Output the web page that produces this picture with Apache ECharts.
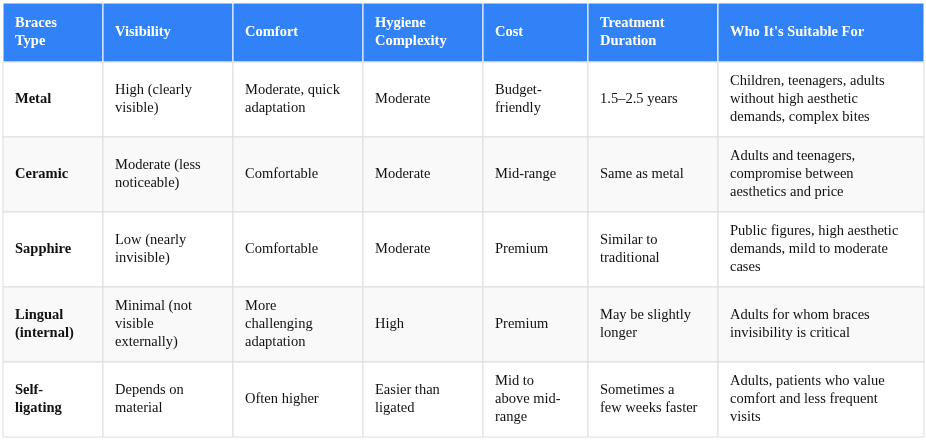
<!DOCTYPE html>
<html><head><meta charset="utf-8">
<script src="https://cdn.jsdelivr.net/npm/echarts@6/dist/echarts.min.js"></script>
<style>html,body{margin:0;padding:0;background:#fff}#chart1{width:926px;height:440px}</style>
</head><body><div id="chart1"></div>
<script>
var headers = ['Braces\nType', 'Visibility', 'Comfort', 'Hygiene\nComplexity', 'Cost', 'Treatment\nDuration', "Who It's Suitable For"];
var rowMetal = ['Metal', 'High (clearly\nvisible)', 'Moderate, quick\nadaptation', 'Moderate', 'Budget-\nfriendly', '1.5–2.5 years', 'Children, teenagers, adults\nwithout high aesthetic\ndemands, complex bites'];
var rowCeramic = ['Ceramic', 'Moderate (less\nnoticeable)', 'Comfortable', 'Moderate', 'Mid-range', 'Same as metal', 'Adults and teenagers,\ncompromise between\naesthetics and price'];
var rowSapphire = ['Sapphire', 'Low (nearly\ninvisible)', 'Comfortable', 'Moderate', 'Premium', 'Similar to\ntraditional', 'Public figures, high aesthetic\ndemands, mild to moderate\ncases'];
var rowLingual = ['Lingual\n(internal)', 'Minimal (not\nvisible\nexternally)', 'More\nchallenging\nadaptation', 'High', 'Premium', 'May be slightly\nlonger', 'Adults for whom braces\ninvisibility is critical'];
var rowSelf = ['Self-\nligating', 'Depends on\nmaterial', 'Often higher', 'Easier than\nligated', 'Mid to\nabove mid-\nrange', 'Sometimes a\nfew weeks faster', 'Adults, patients who value\ncomfort and less frequent\nvisits'];
var rows = [rowMetal, rowCeramic, rowSapphire, rowLingual, rowSelf];

var colX = [3, 103, 233, 363, 483, 588, 718, 924];
var top0 = 3, headH = 59, rowH = 75;
var els = [];
function cell(x, y, w, h, fill, txt, color, bold) {
  els.push({ type: 'rect', shape: { x: x, y: y, width: w, height: h },
    style: { fill: fill, stroke: fill === '#3182f6' ? '#ffffff' : '#dddddd', lineWidth: 1 } });
  els.push({ type: 'text', x: x + 12, y: y + h / 2,
    style: { text: txt, fill: color, fontFamily: 'Liberation Serif', fontSize: 14.5,
      fontWeight: bold ? 'bold' : 'normal', lineHeight: 18, verticalAlign: 'middle', align: 'left' } });
}
for (var c = 0; c < headers.length; c++) {
  cell(colX[c], top0, colX[c + 1] - colX[c], headH, '#3182f6', headers[c], '#ffffff', true);
}
rows.forEach(function (r, i) {
  var y = top0 + headH + i * rowH;
  for (var c = 0; c < r.length; c++) {
    cell(colX[c], y, colX[c + 1] - colX[c], rowH, i % 2 ? '#f9f9f9' : '#ffffff', r[c], '#111111', c === 0);
  }
});
var chart1 = echarts.init(document.getElementById('chart1'));
chart1.setOption({ graphic: { elements: els } });
</script></body></html>
